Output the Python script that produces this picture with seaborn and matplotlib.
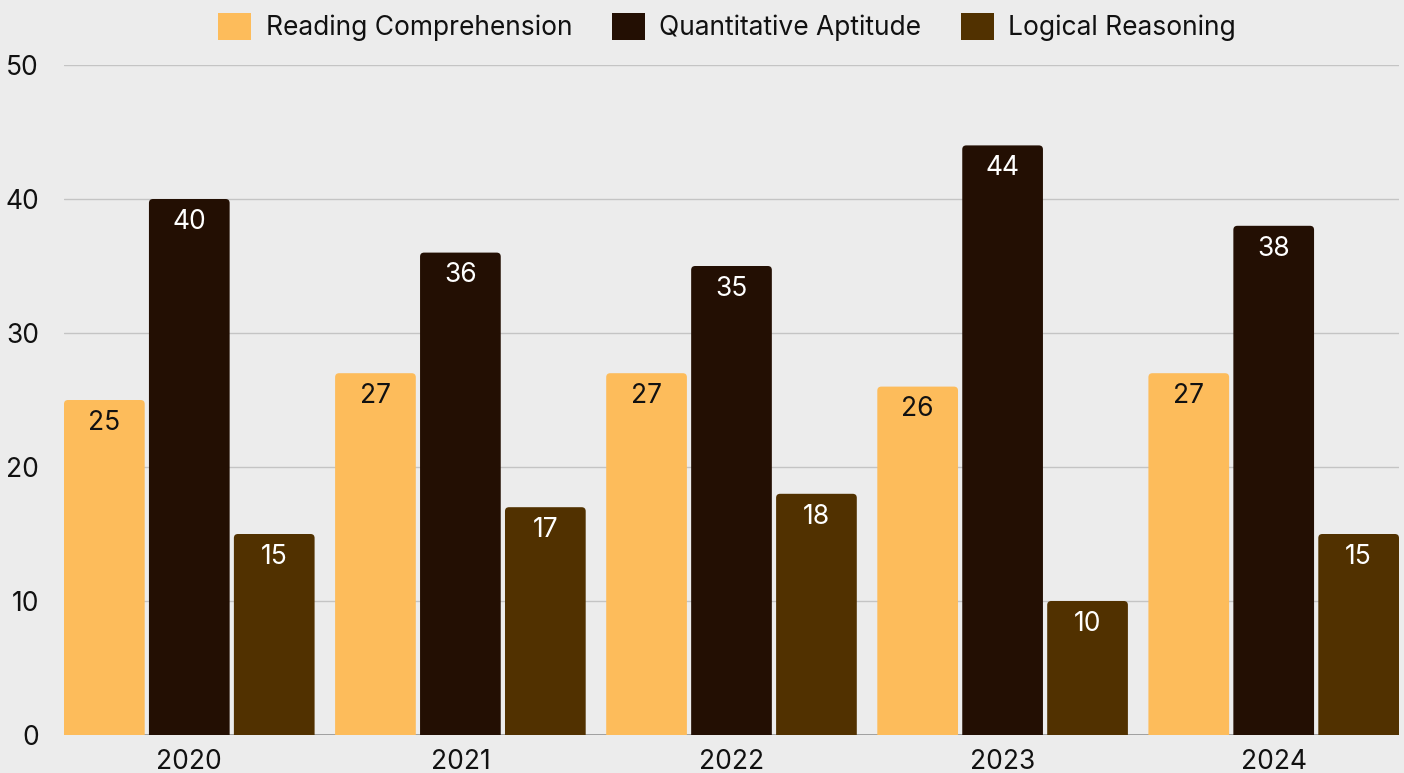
import pandas as pd
import seaborn as sns
import matplotlib.pyplot as plt
from matplotlib.patches import FancyBboxPatch, Patch

years = ['2020', '2021', '2022', '2023', '2024']
sections = ['Reading Comprehension', 'Quantitative Aptitude', 'Logical Reasoning']
reading = [25, 27, 27, 26, 27]
quant = [40, 36, 35, 44, 38]
logical = [15, 17, 18, 10, 15]

colors = ['#FDBC5B', '#230F03', '#513100']
label_colors = ['#111111', 'white', 'white']

df = pd.DataFrame({
    'year': years * 3,
    'section': [s for s in sections for _ in years],
    'score': reading + quant + logical,
})

sns.set_theme(style='white')
plt.rcParams['font.family'] = ['Inter', 'DejaVu Sans']

fig = plt.figure(figsize=(14.04, 7.73), dpi=100)
fig.patch.set_facecolor('#ECECEC')
ax = fig.add_axes([64 / 1404, 38 / 773, 1335 / 1404, 670 / 773])
ax.set_facecolor('#ECECEC')

sns.barplot(data=df, x='year', y='score', hue='section', hue_order=sections,
            palette=colors, width=0.94, gap=0.05, legend=False, ax=ax, zorder=3)

# snap the x range to the outer bar edges
lefts = [b.get_x() for c in ax.containers for b in c]
rights = [b.get_x() + b.get_width() for c in ax.containers for b in c]
ax.set_xlim(min(lefts), max(rights))
ax.set_ylim(0, 50)

# swap plain bars for ones with rounded tops
for cont, c, lc in zip(ax.containers, colors, label_colors):
    for bar in cont:
        x, w, h = bar.get_x(), bar.get_width(), bar.get_height()
        bar.set_visible(False)
        rb = FancyBboxPatch((x, -2), w, h + 2,
                            boxstyle='round,pad=0,rounding_size=0.015',
                            mutation_aspect=20, facecolor=c, edgecolor='none',
                            zorder=3)
        ax.add_patch(rb)
        ax.annotate(f'{h:.0f}', (x + w / 2, h), xytext=(0, -7),
                    textcoords='offset points', ha='center', va='top',
                    fontsize=19, color=lc, zorder=4)

ax.set_yticks(range(0, 51, 10))
ax.yaxis.grid(True, color='#C4C4C4', linewidth=1, zorder=0)
ax.axhline(0, color='#999999', linewidth=2, zorder=2)
for s in ax.spines.values():
    s.set_visible(False)
ax.tick_params(axis='y', length=0, pad=18, labelsize=19, labelcolor='#111111')
ax.tick_params(axis='x', length=0, pad=10, labelsize=19, labelcolor='#111111')
ax.set_xlabel('')
ax.set_ylabel('')

handles = [Patch(facecolor=c, edgecolor='none', label=s) for s, c in zip(sections, colors)]
fig.legend(handles=handles, loc='center', bbox_to_anchor=(727 / 1404, 1 - 27 / 773),
           ncol=3, frameon=False, fontsize=19, handlelength=1.25, handleheight=1.25,
           handletextpad=0.55, columnspacing=1.5, labelcolor='#111111')

fig.savefig('out.png', dpi=100, facecolor=fig.get_facecolor())
